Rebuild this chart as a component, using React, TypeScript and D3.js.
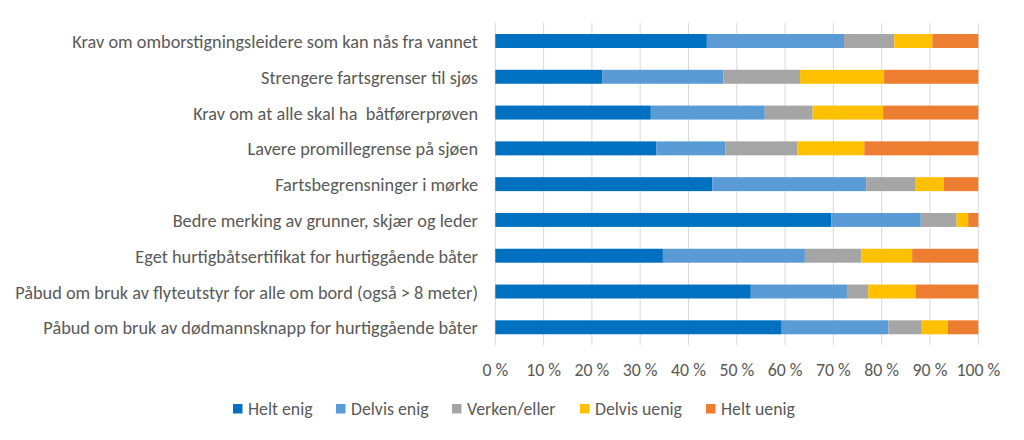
import React from "react";
import * as d3 from "d3";

const categories = [
  "Krav om omborstigningsleidere som kan nås fra vannet",
  "Strengere fartsgrenser til sjøs",
  "Krav om at alle skal ha  båtførerprøven",
  "Lavere promillegrense på sjøen",
  "Fartsbegrensninger i mørke",
  "Bedre merking av grunner, skjær og leder",
  "Eget hurtigbåtsertifikat for hurtiggående båter",
  "Påbud om bruk av flyteutstyr for alle om bord (også > 8 meter)",
  "Påbud om bruk av dødmannsknapp for hurtiggående båter",
];

const seriesNames = ["Helt enig", "Delvis enig", "Verken/eller", "Delvis uenig", "Helt uenig"];
const seriesColors = ["#0070C0", "#5B9BD5", "#A5A5A5", "#FFC000", "#ED7D31"];

const heltEnig = [43.8, 22.2, 32.2, 33.3, 44.9, 69.6, 34.7, 52.9, 59.3];
const delvisEnig = [28.4, 25.0, 23.6, 14.3, 31.9, 18.5, 29.4, 19.9, 22.1];
const verkenEller = [10.4, 15.9, 9.9, 14.9, 10.1, 7.4, 11.7, 4.4, 6.9];
const delvisUenig = [7.9, 17.4, 14.6, 13.9, 6.0, 2.4, 10.5, 9.9, 5.4];
const heltUenig = [9.5, 19.5, 19.7, 23.6, 7.1, 2.1, 13.7, 12.9, 6.3];

const tickValues = [0, 10, 20, 30, 40, 50, 60, 70, 80, 90, 100];

const W = 1024;
const H = 440;
const FONT = "Carlito, Calibri, Lato, 'Open Sans', sans-serif";
const TEXT = "#595959";
const FS = 17.8;
const FS_CAT = 18.3;

export default function App() {
  const seriesData = [heltEnig, delvisEnig, verkenEller, delvisUenig, heltUenig];
  const rows = categories.map((c, i) => {
    const o: any = { cat: c };
    seriesNames.forEach((s, k) => (o[s] = seriesData[k][i]));
    return o;
  });
  const stack = d3.stack<any>().keys(seriesNames).offset(d3.stackOffsetExpand);
  const stacked = stack(rows);

  const x = d3.scaleLinear().domain([0, 1]).range([495.3, 978.3]);
  const y = d3.scaleBand<string>().domain(categories).range([23.1, 345.2]).paddingInner(0.61).paddingOuter(0.305);

  const legendX = [233, 336, 452, 580, 706];

  return (
    <div style={{ margin: -8 }}>
      <svg width={W} height={H} style={{ display: "block", fontFamily: FONT }}>
        <rect x={0} y={0} width={W} height={H} fill="#fff" />
        <rect x={1} y={1} width={1021} height={437} fill="none" stroke="#d9d9d9" strokeWidth={1.5} />
        {tickValues.map((t) => (
          <line key={t} x1={x(t / 100)} x2={x(t / 100)} y1={23} y2={345} stroke="#d9d9d9" strokeWidth={1} />
        ))}
        {stacked.map((s, k) => (
          <g key={s.key} fill={seriesColors[k]}>
            {s.map((d, i) => (
              <rect
                key={i}
                x={x(d[0])}
                y={y(categories[i])}
                width={Math.max(0, x(d[1]) - x(d[0]))}
                height={y.bandwidth()}
              />
            ))}
          </g>
        ))}
        {categories.map((c) => (
          <text
            key={c}
            x={478}
            y={(y(c) as number) + y.bandwidth() / 2 + 1}
            textAnchor="end"
            dominantBaseline="central"
            fontSize={FS_CAT}
            fill={TEXT}
            style={{ whiteSpace: "pre" }}
          >
            {c}
          </text>
        ))}
        {tickValues.map((t) => (
          <text
            key={t}
            x={x(t / 100)}
            y={370}
            textAnchor="middle"
            dominantBaseline="central"
            fontSize={FS}
            fill={TEXT}
          >
            {`${t} %`}
          </text>
        ))}
        {seriesNames.map((s, k) => (
          <g key={s}>
            <rect x={legendX[k]} y={404} width={9.5} height={9.5} fill={seriesColors[k]} />
            <text x={legendX[k] + 15} y={409} dominantBaseline="central" fontSize={FS} fill={TEXT}>
              {s}
            </text>
          </g>
        ))}
      </svg>
    </div>
  );
}
